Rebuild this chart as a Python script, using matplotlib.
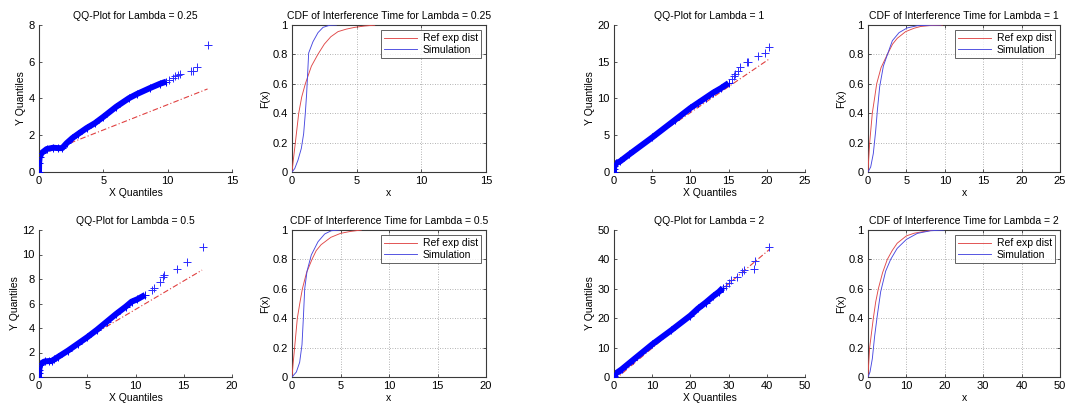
import matplotlib
matplotlib.use("Agg")
import matplotlib.pyplot as plt
from matplotlib.ticker import FuncFormatter

plt.rcParams['font.family'] = ['Liberation Sans', 'DejaVu Sans']
plt.rcParams['font.size'] = 7.5

# ---------------- data ----------------
lambdas = ["0.25", "0.5", "1", "2"]

# QQ plot, lambda = 0.25
qq_dense_x_025 = [0, 0.01, 0.05, 0.2, 0.6, 1.1, 1.5, 1.8, 2.15, 2.6, 3.0, 3.7, 4.35, 5.0, 6.0, 7.0, 7.6, 8.6, 9.4, 9.9]
qq_dense_y_025 = [0, 0.5, 0.8, 1.03, 1.25, 1.32, 1.3, 1.3, 1.57, 1.85, 2.05, 2.39, 2.66, 3.0, 3.55, 4.02, 4.24, 4.56, 4.8, 4.92]
qq_tail_x_025 = [10.1, 10.4, 10.6, 10.8, 10.95, 11.8, 12.0, 12.25, 13.1]
qq_tail_y_025 = [5.0, 5.1, 5.23, 5.3, 5.34, 5.48, 5.52, 5.74, 6.91]
qq_ref_x_025 = [0, 13.1]
qq_ref_y_025 = [0.91, 4.52]

# QQ plot, lambda = 0.5
qq_dense_x_05 = [0, 0.01, 0.03, 0.1, 0.3, 0.6, 1.0, 1.3, 1.6, 2.0, 3.0, 4.0, 5.0, 6.0, 7.0, 8.0, 9.0, 9.6, 10.2, 11.0]
qq_dense_y_05 = [0, 0.3, 0.6, 0.95, 1.15, 1.27, 1.3, 1.3, 1.45, 1.65, 2.15, 2.7, 3.25, 3.85, 4.5, 5.15, 5.75, 6.15, 6.35, 6.7]
qq_tail_x_05 = [11.7, 11.9, 12.5, 12.85, 12.95, 14.35, 15.3, 16.95]
qq_tail_y_05 = [7.1, 7.3, 7.77, 8.13, 8.32, 8.78, 9.35, 10.64]
qq_ref_x_05 = [0, 16.9]
qq_ref_y_05 = [0.86, 8.73]

# QQ plot, lambda = 1
qq_dense_x_1 = [0, 0.01, 0.05, 0.3, 0.8, 2.0, 5.0, 8.0, 10.0, 11.0, 12.0, 13.0, 14.0, 15.0]
qq_dense_y_1 = [0, 0.4, 0.8, 1.2, 1.45, 2.4, 4.7, 7.1, 8.7, 9.4, 10.1, 10.8, 11.4, 12.1]
qq_tail_x_1 = [15.5, 15.7, 15.9, 16.2, 16.5, 17.45, 17.6, 18.8, 19.7, 20.35]
qq_tail_y_1 = [12.6, 13.0, 13.3, 13.7, 14.3, 14.9, 15.0, 15.8, 16.2, 17.05]
qq_ref_x_1 = [0, 20.35]
qq_ref_y_1 = [1.0, 15.4]

# QQ plot, lambda = 2
qq_dense_x_2 = [0, 0.05, 0.2, 0.8, 2, 5, 10, 15, 20, 22, 24, 26, 27.5, 28.5]
qq_dense_y_2 = [0, 0.5, 0.9, 1.5, 2.6, 5.8, 11.1, 15.9, 20.9, 23.3, 25.3, 27.5, 29.0, 30.3]
qq_tail_x_2 = [29.2, 30.0, 30.6, 32.3, 33.6, 34.0, 36.6, 36.8, 40.7]
qq_tail_y_2 = [31.0, 32.0, 33.0, 33.9, 35.8, 36.4, 36.9, 39.4, 44.3]
qq_ref_x_2 = [0, 40.7]
qq_ref_y_2 = [-1.1, 43.4]

# CDF, lambda = 0.25
cdf_ref_x_025 = [0, 0.1, 0.26, 0.52, 0.75, 1.03, 1.5, 2.0, 2.5, 3.0, 3.56, 4.2, 4.85, 5.6, 6.4]
cdf_ref_y_025 = [0, 0.08, 0.2, 0.4, 0.51, 0.6, 0.72, 0.8, 0.87, 0.92, 0.955, 0.972, 0.984, 0.993, 0.999]
cdf_sim_x_025 = [0, 0.21, 0.46, 0.72, 0.9, 1.03, 1.13, 1.21, 1.29, 1.62, 2.01, 2.4, 2.9, 3.43]
cdf_sim_y_025 = [0, 0.023, 0.08, 0.16, 0.26, 0.4, 0.53, 0.67, 0.81, 0.886, 0.948, 0.984, 0.998, 1.0]

# CDF, lambda = 0.5
cdf_ref_x_05 = [0, 0.1, 0.27, 0.55, 0.8, 1.07, 1.5, 2.06, 2.5, 3.0, 4.0, 5.0, 6.0, 7.15]
cdf_ref_y_05 = [0, 0.08, 0.2, 0.4, 0.5, 0.6, 0.71, 0.8, 0.86, 0.9, 0.95, 0.977, 0.99, 1.0]
cdf_sim_x_05 = [0, 0.45, 0.79, 1.03, 1.17, 1.31, 1.55, 1.99, 2.68, 3.37, 4.05, 4.9]
cdf_sim_y_05 = [0, 0.034, 0.10, 0.22, 0.4, 0.6, 0.72, 0.83, 0.92, 0.973, 0.995, 1.0]

# CDF, lambda = 1
cdf_ref_x_1 = [0, 0.08, 0.22, 0.56, 0.85, 1.13, 1.7, 2.52, 3.2, 3.82, 4.9, 6.0, 6.86, 8.0, 9.7]
cdf_ref_y_1 = [0, 0.08, 0.2, 0.4, 0.5, 0.6, 0.71, 0.8, 0.87, 0.91, 0.955, 0.978, 0.99, 0.996, 1.0]
cdf_sim_x_1 = [0, 0.35, 0.69, 1.0, 1.22, 1.52, 2.0, 2.6, 3.17, 4.04, 5.1, 6.4, 8.2, 9.5]
cdf_sim_y_1 = [0, 0.034, 0.125, 0.28, 0.42, 0.58, 0.72, 0.81, 0.893, 0.948, 0.98, 0.995, 0.999, 1.0]

# CDF, lambda = 2
cdf_ref_x_2 = [0, 0.15, 0.43, 1.39, 2.0, 2.69, 3.8, 5.03, 6.3, 7.6, 10, 12, 14.6, 17.2]
cdf_ref_y_2 = [0, 0.08, 0.2, 0.4, 0.51, 0.6, 0.71, 0.8, 0.86, 0.91, 0.96, 0.978, 0.99, 1.0]
cdf_sim_x_2 = [0, 0.52, 1.13, 1.74, 2.43, 3.3, 4.6, 5.9, 7.6, 10, 12.85, 16.3, 19.8]
cdf_sim_y_2 = [0, 0.034, 0.125, 0.28, 0.42, 0.58, 0.72, 0.80, 0.875, 0.936, 0.977, 0.995, 1.0]

qq_xlim = [15, 20, 25, 50]
qq_ylim = [8, 12, 20, 50]
qq_xstep = [5, 5, 5, 10]
qq_ystep = [2, 2, 5, 10]
cdf_xlim = [15, 20, 25, 50]
cdf_xstep = [5, 5, 5, 10]

# ---------------- figure ----------------
W, H = 1067, 409
fig = plt.figure(figsize=(W / 100, H / 100), dpi=100)
fig.patch.set_facecolor('white')

AX_COL = '#3a3a3a'
fmt = FuncFormatter(lambda v, p: '%g' % v)


def px_axes(left, top, right, bottom):
    return fig.add_axes([left / W, 1 - bottom / H, (right - left) / W, (bottom - top) / H])


def style(ax, box):
    for s in ax.spines.values():
        s.set_color(AX_COL)
        s.set_linewidth(0.8)
    if not box:
        ax.spines['top'].set_visible(False)
        ax.spines['right'].set_visible(False)
    ax.tick_params(direction='in', length=2.5, width=0.6, colors=AX_COL,
                   labelcolor='black', labelsize=8, pad=3,
                   top=box, right=box)
    ax.xaxis.set_major_formatter(fmt)
    ax.yaxis.set_major_formatter(fmt)


qq_data = [
    (qq_dense_x_025, qq_dense_y_025, qq_tail_x_025, qq_tail_y_025, qq_ref_x_025, qq_ref_y_025),
    (qq_dense_x_05, qq_dense_y_05, qq_tail_x_05, qq_tail_y_05, qq_ref_x_05, qq_ref_y_05),
    (qq_dense_x_1, qq_dense_y_1, qq_tail_x_1, qq_tail_y_1, qq_ref_x_1, qq_ref_y_1),
    (qq_dense_x_2, qq_dense_y_2, qq_tail_x_2, qq_tail_y_2, qq_ref_x_2, qq_ref_y_2),
]
cdf_data = [
    (cdf_ref_x_025, cdf_ref_y_025, cdf_sim_x_025, cdf_sim_y_025),
    (cdf_ref_x_05, cdf_ref_y_05, cdf_sim_x_05, cdf_sim_y_05),
    (cdf_ref_x_1, cdf_ref_y_1, cdf_sim_x_1, cdf_sim_y_1),
    (cdf_ref_x_2, cdf_ref_y_2, cdf_sim_x_2, cdf_sim_y_2),
]

# pixel boxes (left, right) for QQ and CDF columns, (top, bottom) rows
qq_cols = [(39, 232), (39, 232), (614, 805), (614, 805)]
cdf_cols = [(292, 486), (292, 486), (868, 1060), (868, 1060)]
rows = [(25, 172), (230, 377), (25, 172), (230, 377)]

for i, lam in enumerate(lambdas):
    top, bottom = rows[i]
    # ---- QQ plot ----
    l, r = qq_cols[i]
    ax = px_axes(l, top, r, bottom)
    dx, dy, tx, ty, rx, ry = qq_data[i]
    ax.plot(rx, ry, color='#e04040', lw=0.8, ls=(0, (5, 2, 1, 2)), zorder=1)
    ax.plot(dx, dy, color='#0000ff', lw=4.3, solid_capstyle='butt',
            solid_joinstyle='round', zorder=2)
    ax.plot(dx, dy, ls='none', marker='+', ms=6, mew=0.7, color='#0000ff', zorder=3)
    ax.plot(tx, ty, ls='none', marker='+', ms=6, mew=0.7, color='#2a2aff', zorder=3)
    ax.set_xlim(0, qq_xlim[i])
    ax.set_ylim(0, qq_ylim[i])
    ax.set_xticks(range(0, qq_xlim[i] + 1, qq_xstep[i]))
    ax.set_yticks(range(0, qq_ylim[i] + 1, qq_ystep[i]))
    style(ax, box=False)
    ax.set_title('QQ-Plot for Lambda = ' + lam, fontsize=7.5, pad=4)
    ax.set_xlabel('X Quantiles', fontsize=7.5, labelpad=1.5)
    ax.set_ylabel('Y Quantiles', fontsize=7.5, labelpad=2)

    # ---- CDF plot ----
    l, r = cdf_cols[i]
    ax = px_axes(l, top, r, bottom)
    rx, ry, sx, sy = cdf_data[i]
    ax.plot(rx, ry, color='#e04848', lw=0.65, label='Ref exp dist', zorder=3)
    ax.plot(sx, sy, color='#4848e0', lw=0.65, label='Simulation', zorder=3)
    ax.set_xlim(0, cdf_xlim[i])
    ax.set_ylim(0, 1)
    ax.set_xticks(range(0, cdf_xlim[i] + 1, cdf_xstep[i]))
    ax.set_yticks([0, 0.2, 0.4, 0.6, 0.8, 1])
    ax.grid(True, ls=(0, (1, 2)), color='#9a9a9a', lw=0.6)
    style(ax, box=True)
    ax.set_title('CDF of Interference Time for Lambda = ' + lam, fontsize=7.5, pad=4)
    ax.set_xlabel('x', fontsize=7.5, labelpad=1.5)
    ax.set_ylabel('F(x)', fontsize=7.5, labelpad=2)
    leg = ax.legend(loc='upper right', fontsize=7.5, frameon=True, fancybox=False,
                    borderpad=0.3, handlelength=3.2, handletextpad=0.5,
                    labelspacing=0.15, borderaxespad=0.5)
    leg.get_frame().set_edgecolor(AX_COL)
    leg.get_frame().set_linewidth(0.7)

fig.savefig('out.png', dpi=100, facecolor='white')
